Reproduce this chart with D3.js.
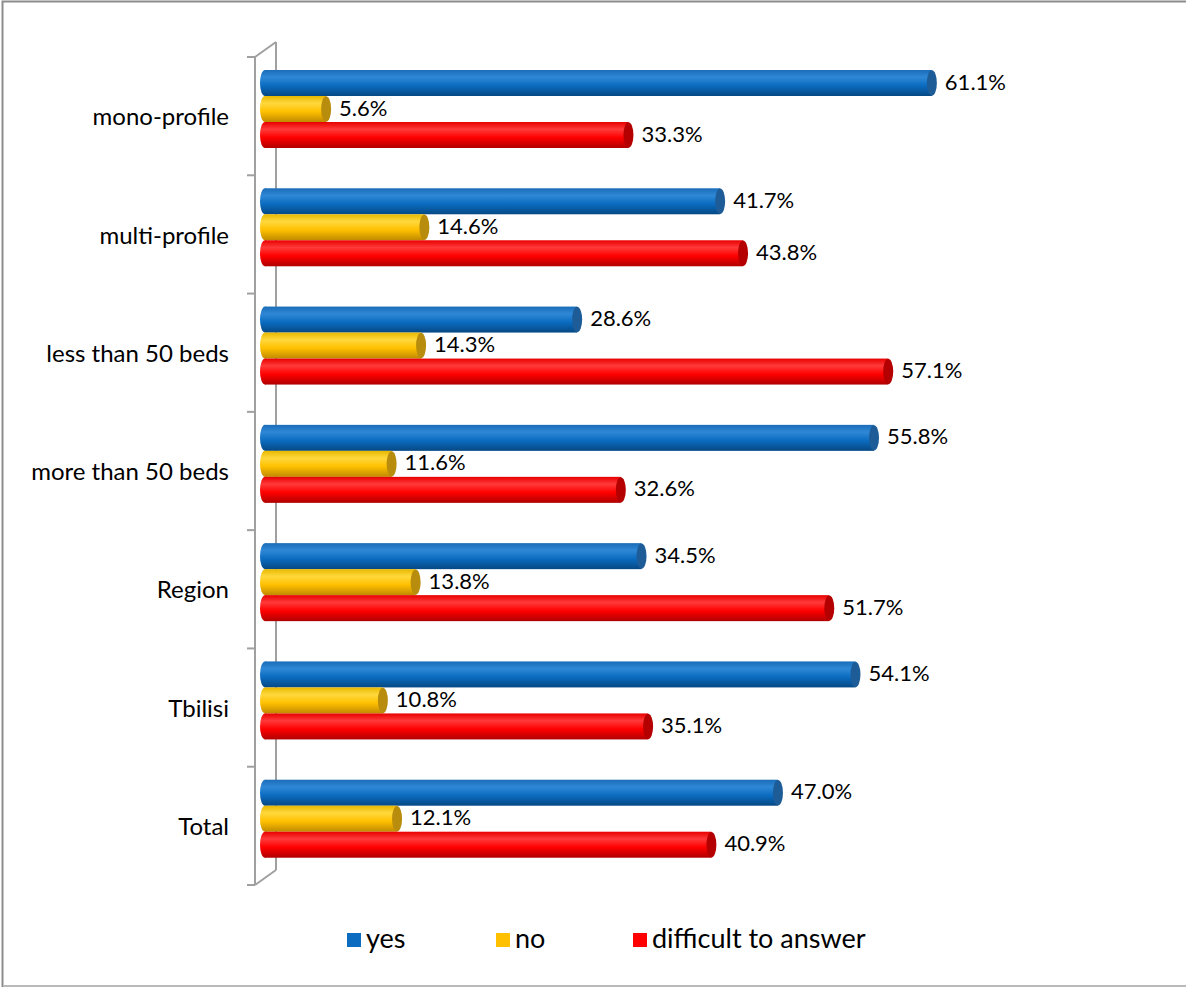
<!DOCTYPE html>
<html><head><meta charset="utf-8">
<script src="https://cdn.jsdelivr.net/npm/d3@7"></script>
<style>html,body{margin:0;padding:0;background:#fff}</style>
</head><body>
<script>
const categories = ["mono-profile","multi-profile","less than 50 beds","more than 50 beds","Region","Tbilisi","Total"];
const seriesNames = ["yes","no","difficult to answer"];
const yesValues = [61.1,41.7,28.6,55.8,34.5,54.1,47.0];
const noValues = [5.6,14.6,14.3,11.6,13.8,10.8,12.1];
const difficultValues = [33.3,43.8,57.1,32.6,51.7,35.1,40.9];
const seriesValues = [yesValues, noValues, difficultValues];

const W = 1186, H = 987;
const font = "Lato, 'Liberation Sans', sans-serif";
const svg = d3.select("body").append("svg").attr("width", W).attr("height", H);

// outer border
svg.append("rect").attr("x",2.5).attr("y",1.5).attr("width",W+10).attr("height",H-2.5)
  .attr("fill","none").attr("stroke","#8c8c8c").attr("stroke-width",2);
svg.append("line").attr("x1",3).attr("x2",W).attr("y1",986).attr("y2",986).attr("stroke","#e6e6e6");

const colors = [
  {stops:["#1a6cb8","#2f88d6","#0b6cc0","#064884"], cap:"#1d5c97"},
  {stops:["#e8b800","#ffd83c","#ffc000","#c08a00"], cap:"#b88c0c"},
  {stops:["#e80000","#ff3a3a","#ff0000","#b00000"], cap:"#b40000"}
];
const defs = svg.append("defs");
colors.forEach((c,i)=>{
  const g = defs.append("linearGradient").attr("id","g"+i).attr("x1",0).attr("x2",0).attr("y1",0).attr("y2",1);
  [0,0.28,0.6,1].forEach((o,j)=>g.append("stop").attr("offset",o).attr("stop-color",c.stops[j]));
});

const x = d3.scaleLinear().domain([0,70]).range([265, 265+764]);
const y = d3.scaleBand().domain(categories).range([57, 885]).paddingInner(0).paddingOuter(0);
const inner = d3.scaleBand().domain(seriesNames).range([13, 13+78]);
const dx = 21, dy = -15;

// 3D axis wall
const ax = svg.append("g").attr("stroke","#a0a0a0").attr("stroke-width",2).attr("fill","none");
const y0 = y.range()[0], y1 = y.range()[1], xf = 255;
ax.append("line").attr("x1",xf).attr("x2",xf).attr("y1",y0).attr("y2",y1);
ax.append("line").attr("x1",xf+dx).attr("x2",xf+dx).attr("y1",y0+dy).attr("y2",y1+dy);
ax.append("line").attr("x1",xf).attr("x2",xf+dx).attr("y1",y0).attr("y2",y0+dy);
ax.append("line").attr("x1",xf).attr("x2",xf+dx).attr("y1",y1).attr("y2",y1+dy);
const ticks = categories.map(c=>y(c)).concat([y1]);
ax.selectAll(".t").data(ticks).enter().append("line")
  .attr("x1",xf-8).attr("x2",xf).attr("y1",d=>d).attr("y2",d=>d);

// category labels
svg.selectAll(".cat").data(categories).enter().append("text")
  .attr("x",229).attr("y",d=>y(d)+y.bandwidth()/2+3)
  .attr("text-anchor","end").attr("dominant-baseline","middle")
  .attr("font-family",font).attr("font-size",24).attr("fill","#000").text(d=>d);

// bars
const rx = 5;
seriesNames.forEach((s,si)=>{
  const g = svg.append("g");
  categories.forEach((c,ci)=>{
    const v = seriesValues[si][ci];
    const top = y(c)+inner(s), h = inner.bandwidth();
    const xs = x(0), xe = x(v);
    g.append("ellipse").attr("cx",xs).attr("cy",top+h/2).attr("rx",rx).attr("ry",h/2).attr("fill","url(#g"+si+")");
    g.append("rect").attr("x",xs).attr("y",top).attr("width",xe-xs).attr("height",h).attr("fill","url(#g"+si+")");
    g.append("ellipse").attr("cx",xe).attr("cy",top+h/2).attr("rx",rx).attr("ry",h/2-0.3)
      .attr("fill",colors[si].cap);
    g.append("text").attr("x",xe+rx+8).attr("y",top+h/2+1).attr("dominant-baseline","middle")
      .attr("font-family",font).attr("font-size",22).attr("fill","#000").text(v.toFixed(1)+"%");
  });
});

// legend
const legendX = [347, 496, 633];
const lg = svg.append("g");
seriesNames.forEach((s,i)=>{
  lg.append("rect").attr("x",legendX[i]).attr("y",933).attr("width",14).attr("height",14).attr("fill",colors[i].stops[2]);
  lg.append("text").attr("x",legendX[i]+19).attr("y",941).attr("dominant-baseline","middle")
    .attr("font-family",font).attr("font-size",27).attr("fill","#000").text(s);
});
</script>
</body></html>
